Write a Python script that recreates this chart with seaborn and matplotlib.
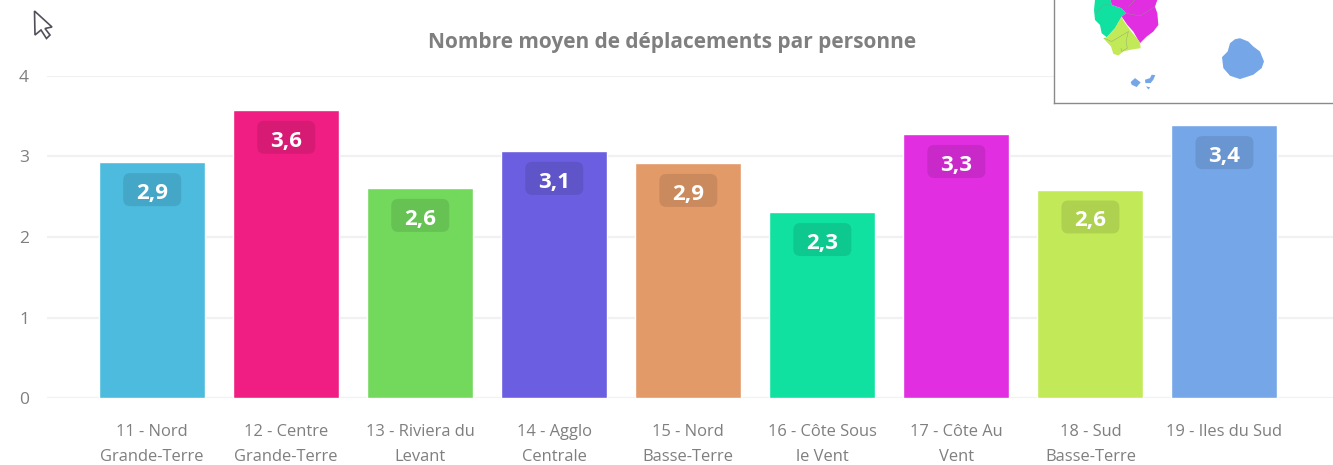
import matplotlib
matplotlib.use('Agg')
import matplotlib.pyplot as plt
from matplotlib.patches import FancyBboxPatch, Polygon
from matplotlib.transforms import Affine2D, ScaledTranslation
import pandas as pd
import seaborn as sns

# valeurs
secteurs = ['11 - Nord\nGrande-Terre', '12 - Centre\nGrande-Terre', '13 - Riviera du\nLevant',
            '14 - Agglo\nCentrale', '15 - Nord\nBasse-Terre', '16 - Côte Sous\nle Vent',
            '17 - Côte Au\nVent', '18 - Sud\nBasse-Terre', '19 - Iles du Sud\n ']
valeurs = [2.93, 3.58, 2.61, 3.07, 2.92, 2.31, 3.28, 2.59, 3.39]
couleurs = ['#4DBBDE', '#F01E82', '#72D95C', '#6B5EE0', '#E39A69',
            '#10E0A0', '#E02EE0', '#C2EA58', '#75A7E8']
titre = 'Nombre moyen de déplacements par personne'

# contours de la petite carte (en pixels du zoom)
carte_16 = [(165, 0), (212, 0), (215, 15), (245, 25), (258, 40), (245, 50), (225, 85), (200, 112),
            (185, 100), (180, 75), (165, 60), (162, 30)]
carte_17 = [(212, 0), (352, 0), (345, 20), (352, 40), (355, 75), (340, 95), (320, 110), (300, 130),
            (280, 95), (262, 75), (245, 50), (258, 40), (245, 25), (215, 15)]
carte_18 = [(245, 50), (250, 62), (270, 90), (300, 127), (302, 145), (270, 150), (250, 155),
            (235, 167), (220, 162), (213, 140), (190, 115), (200, 112), (225, 85)]
carte_19 = [[(600, 115), (625, 125), (640, 140), (660, 155), (672, 185), (665, 205), (640, 225),
             (600, 238), (570, 228), (550, 205), (546, 172), (563, 155), (570, 130), (585, 118)],
            [(285, 235), (302, 248), (290, 262), (275, 255), (272, 247)],
            [(315, 240), (330, 235), (335, 225), (346, 226), (340, 240), (332, 250), (316, 250)],
            [(318, 260), (331, 263), (325, 269)]]
limites = [[(167, 40), (190, 15), (215, 15)], [(258, 40), (300, 48), (345, 20)], [(285, 0), (265, 20)],
           [(192, 115), (215, 125), (265, 95)], [(265, 95), (258, 125), (262, 145), (245, 155), (243, 145)]]
curseur = [(34.5, 11), (52, 27), (45, 28.5), (50, 35), (46.5, 38.5), (41, 30), (35, 35)]

sns.set_theme(style='white')
plt.rcParams['font.family'] = ['Open Sans', 'DejaVu Sans']

W, H = 1333, 465
fig = plt.figure(figsize=(W / 100, H / 100), dpi=100)
ax = fig.add_axes([47 / W, 1 - 398 / H, (W - 47) / W, (398 - 76) / H])

df = pd.DataFrame({'secteur': secteurs, 'valeur': valeurs})
sns.barplot(data=df, x='secteur', y='valeur', hue='secteur', palette=couleurs, saturation=1,
            width=0.79, legend=False, ax=ax, zorder=3)

ax.set_xlim(-0.785, 8.81)
ax.set_ylim(0, 4)
ax.set_yticks([0, 1, 2, 3, 4])
ax.set_xlabel('')
ax.set_ylabel('')
ax.grid(axis='y', color='#F1F1F1', linewidth=1.6, zorder=0)
ax.set_axisbelow(True)
for s in ax.spines.values():
    s.set_visible(False)
ax.tick_params(axis='y', length=0, pad=13, labelsize=12.5, labelcolor='#7F7F7F')
ax.tick_params(axis='x', length=0, pad=18.5, labelsize=11.9, labelcolor='#7F7F7F')
for t in ax.get_xticklabels():
    t.set_linespacing(1.76)

for i, v in enumerate(valeurs):
    # pastille sombre sous l'etiquette, en pixels depuis le haut de la barre
    ax.add_patch(FancyBboxPatch((-29, -44), 58, 33, boxstyle='round,pad=0,rounding_size=7',
                                fc=(0, 0, 0, 0.1), ec='none', zorder=4,
                                transform=Affine2D() + ScaledTranslation(i, v, ax.transData)))
    ax.annotate(f'{v:.1f}'.replace('.', ','), (i, v), xytext=(0, -22.5), textcoords='offset points',
                ha='center', va='center', color='white', fontsize=16, fontweight='bold', zorder=5)

fig.text(672 / W, 1 - 42.5 / H, titre, ha='center', va='center', fontsize=15.05,
         fontweight='bold', color='#7F7F7F')

# encart carte
enc = fig.add_axes([1054 / W, 1 - 103 / H, (W - 1054) / W, 103 / H], zorder=6)
enc.set_xlim(42, 879)
enc.set_ylim(310, 0)
enc.set_xticks([])
enc.set_yticks([])
enc.set_facecolor('white')
for nom, s in enc.spines.items():
    s.set_visible(nom in ('left', 'bottom'))
    s.set_color('#8A8A8A')
    s.set_linewidth(1)
for pts, c in [(carte_16, couleurs[5]), (carte_17, couleurs[6]), (carte_18, couleurs[7])]:
    enc.add_patch(Polygon(pts, closed=True, fc=c, ec='none'))
for pts in limites:
    enc.plot(*zip(*pts), color='#8C9A80', lw=0.35, alpha=0.8)
for pts in carte_19:
    enc.add_patch(Polygon(pts, closed=True, fc=couleurs[8], ec='none'))

# curseur souris
over = fig.add_axes([0, 0, 1, 1], zorder=7)
over.set_xlim(0, W)
over.set_ylim(H, 0)
over.axis('off')
over.add_patch(Polygon(curseur, closed=True, fc='white', ec='#50505A', lw=1.2))

fig.savefig('out.png', dpi=100, facecolor='white')
